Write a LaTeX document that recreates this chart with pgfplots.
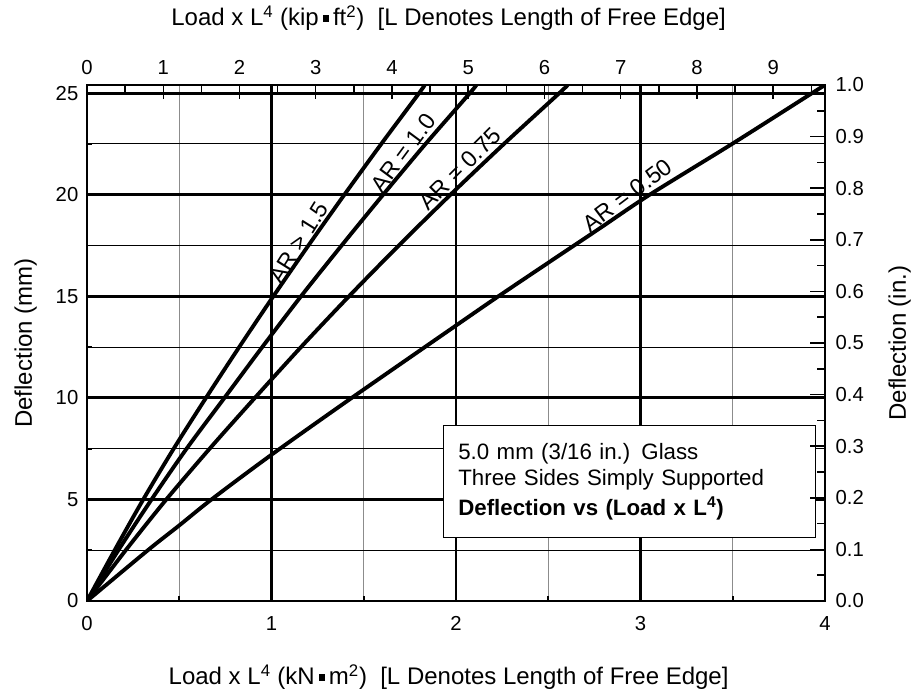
\documentclass[border=0pt]{standalone}
\usepackage{fontspec}
\setmainfont{Liberation Sans}
\usepackage{pgfplots}
\pgfplotsset{compat=1.18}

% small filled square used as the product sign in the axis titles
\newcommand{\sq}{\,\raisebox{0.3ex}{\rule{0.26em}{0.26em}}\,}

\pgfplotsset{
  base/.style={
    width=553.5pt, height=387pt, scale only axis,
    at={(0,0)}, anchor=south west,
    xmin=0, xmax=4, ymin=0, ymax=25.4,
    axis line style={black, line width=0.9pt},
    tick style={black},
    tick label style={font=\fontsize{15.2}{17}\selectfont},
    /pgf/number format/assume math mode=true,
    label style={font=\fontsize{18}{20}\selectfont},
  },
  curve/.style={black, line width=2.9pt, smooth, line join=round},
}

\begin{document}
\begin{tikzpicture}
% ---- main axis: kN m^2 vs mm, grid, curves
\begin{axis}[base,
  xtick={0,1,2,3,4}, ytick={0,5,10,15,20,25},
  xtick pos=bottom, ytick pos=left,
  major tick length=0pt,
  xticklabel style={yshift=-8pt},
  yticklabel style={xshift=-3pt},
  minor xtick={0.5,1.5,2.5,3.5}, minor ytick={2.5,7.5,12.5,17.5,22.5},
  minor tick length=4pt, minor tick style={line width=1.4pt},
  xminorgrids, yminorgrids,
  minor x grid style={black!45, line width=0.8pt},
  minor y grid style={black, line width=0.8pt},
  extra x ticks={1,2,3}, extra x tick labels={},
  extra y ticks={5,10,15,20,25}, extra y tick labels={},
  extra x tick style={grid=major, major grid style={black, line width=2.2pt}},
  extra y tick style={grid=major, major grid style={black, line width=2.2pt}},
  xlabel={Load x L\textsuperscript{4} (kN\sq m\textsuperscript{2})\ \ [L Denotes Length of Free Edge]},
  ylabel={Deflection (mm)},
  xlabel style={at={(axis description cs:0.49,-0.147)}, anchor=center},
  ylabel style={at={(axis description cs:-0.083,0.5)}, anchor=center},
]
% AR > 1.5
\addplot[curve] coordinates {
  (0,0) (0.15,2.5) (0.305,5) (0.47,7.5) (0.645,10) (0.825,12.5) (1.01,15)
  (1.2,17.5) (1.395,20) (1.595,22.5) (1.80,25) (1.83,25.4)
};
% AR = 1.0
\addplot[curve] coordinates {
  (0,0) (0.17,2.5) (0.35,5) (0.54,7.5) (0.745,10) (0.95,12.5) (1.16,15)
  (1.38,17.5) (1.605,20) (1.835,22.5) (2.075,25) (2.11,25.4)
};
% AR = 0.75
\addplot[curve] coordinates {
  (0,0) (0.21,2.5) (0.43,5) (0.665,7.5) (0.91,10) (1.16,12.5) (1.42,15)
  (1.69,17.5) (1.97,20) (2.26,22.5) (2.56,25) (2.605,25.4)
};
% AR = 0.50
\addplot[curve] coordinates {
  (0,0) (0.33,2.5) (0.5,3.72) (0.675,5) (1,7.2) (1.435,10) (2,13.56)
  (2.23,15) (2.5,16.65) (2.78,18.35) (3.05,20) (3.5,22.52) (3.93,25) (4,25.4)
};
\begin{scope}[every node/.style={font=\fontsize{17.5}{19}\selectfont,
                                 inner sep=3pt, anchor=south}]
\node[rotate=58]   at (axis cs:1.205,17.31) {AR > 1.5};
\node[rotate=53.5] at (axis cs:1.768,21.69) {AR = 1.0};
\node[rotate=45]   at (axis cs:2.069,20.84) {AR = 0.75};
\node[rotate=37]   at (axis cs:2.97,19.48)  {AR = 0.50};
\end{scope}
\node[draw=black, line width=0.9pt, fill=white, anchor=north west,
      minimum width=279pt, minimum height=84pt, inner xsep=11pt,
      align=left, text width=257pt,
      font=\fontsize{16.7}{19.5}\selectfont]
  at (axis cs:1.93,8.65)
  {5.0 mm (3/16 in.) Glass\\Three Sides Simply Supported\\[3pt]
   \textbf{Deflection vs (Load x L\textsuperscript{4})}};
\end{axis}

% ---- top axis: kip ft^2
\begin{axis}[base, xmin=0, xmax=9.6795,
  hide y axis, axis x line*=top,
  xtick={0,1,2,3,4,5,6,7,8,9},
  minor xtick={0.5,1.5,2.5,3.5,4.5,5.5,6.5,7.5,8.5,9.5},
  xticklabel style={yshift=4pt},
  tick align=inside, major tick length=10.5pt, minor tick length=5.3pt,
  tick style={line width=1.1pt},
  xlabel={Load x L\textsuperscript{4} (kip\sq ft\textsuperscript{2})\ \ [L Denotes Length of Free Edge]},
  xlabel style={at={(axis description cs:0.49,1.13)}, anchor=center},
]
\end{axis}

% ---- right axis: inches
\begin{axis}[base, ymin=0, ymax=1,
  hide x axis, axis y line*=right,
  ytick={0,0.1,0.2,0.3,0.4,0.5,0.6,0.7,0.8,0.9,1.0},
  minor ytick={0.05,0.15,0.25,0.35,0.45,0.55,0.65,0.75,0.85,0.95},
  yticklabel style={xshift=4.5pt,
    /pgf/number format/.cd, fixed, fixed zerofill, precision=1},
  tick align=inside, major tick length=11pt, minor tick length=6pt,
  tick style={line width=1.1pt},
  ylabel={Deflection (in.)},
  ylabel style={at={(axis description cs:1.101,0.5)}, anchor=center},
]
\end{axis}

\pgfresetboundingbox
\path (-65.25pt,-72.75pt) rectangle (619.5pt,450.75pt);
\end{tikzpicture}
\end{document}
